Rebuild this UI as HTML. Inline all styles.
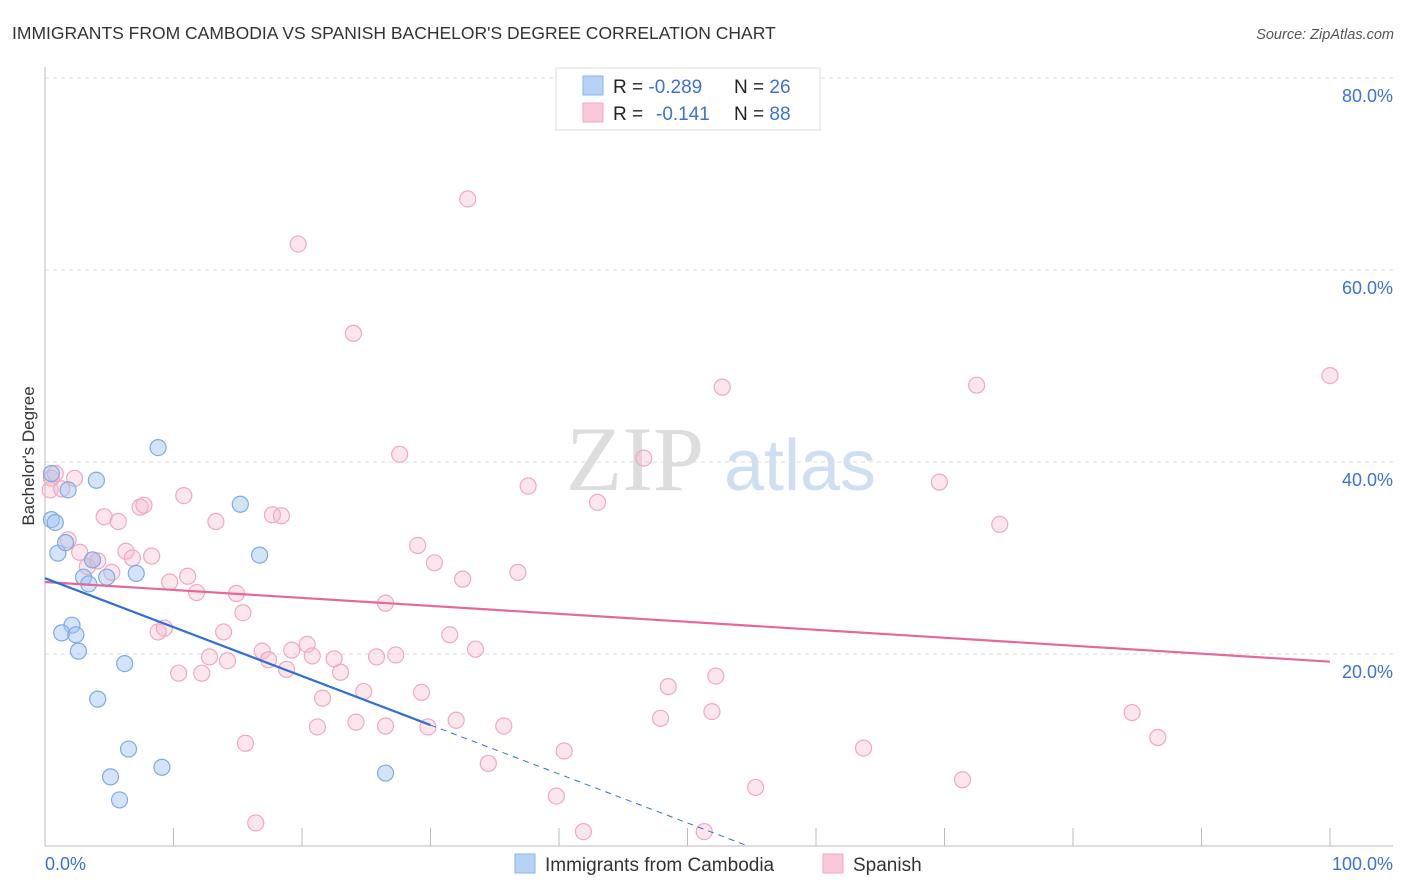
<!DOCTYPE html>
<html><head><meta charset="utf-8"><style>
body{margin:0;background:#fff;font-family:"Liberation Sans",sans-serif;}
svg{display:block}
</style></head><body>
<svg id="chart" width="1406" height="892">
<text x="12" y="39" font-size="17.5" fill="#333">IMMIGRANTS FROM CAMBODIA VS SPANISH BACHELOR'S DEGREE CORRELATION CHART</text>
<text x="1394" y="39" font-size="14.5" fill="#555" font-style="italic" text-anchor="end">Source: ZipAtlas.com</text>
<g><text x="635" y="490" font-size="92" fill="#ddd" font-family="Liberation Serif,serif" text-anchor="middle">ZIP</text><text x="800" y="490" font-size="72" fill="#cfdff2" text-anchor="middle">atlas</text></g>
<g id="grid"></g>
<g id="axes"></g>
<g id="marks"></g>
<text transform="translate(34,456) rotate(-90)" font-size="17" fill="#333" text-anchor="middle">Bachelor's Degree</text>
<g>
<rect x="556" y="68" width="264" height="62" fill="#fff" stroke="#ddd"/>
<rect x="583" y="76" width="20" height="19" fill="#b8d2f5" stroke="#8ab4e8"/>
<rect x="583" y="103" width="20" height="19" fill="#fac8d8" stroke="#f0a8c0"/>
<text x="613" y="93" font-size="19" fill="#222">R = <tspan fill="#3a72d8">-0.289</tspan><tspan x="734">N = </tspan><tspan fill="#3a72d8">26</tspan></text>
<text x="613" y="120" font-size="19" fill="#222">R = <tspan x="656" fill="#3a72d8">-0.141</tspan><tspan x="734">N = </tspan><tspan fill="#3a72d8">88</tspan></text>
</g>
<g>
<rect x="515" y="854" width="20" height="19" fill="#b8d2f5" stroke="#8ab4e8"/>
<text x="545" y="871" font-size="19" fill="#333">Immigrants from Cambodia</text>
<rect x="823" y="854" width="20" height="19" fill="#fac8d8" stroke="#f0a8c0"/>
<text x="853" y="871" font-size="19" fill="#333">Spanish</text>
</g>
</svg>
<script>
const yTicks=[20,40,60,80];
const yTickLabels=["20.0%","40.0%","60.0%","80.0%"];
const xTickVals=[0,10,20,30,40,50,60,70,80,90,100];
const blueX=[0.5,0.5,0.8,1.0,1.8,1.6,4.0,3.0,3.4,2.1,1.3,2.4,2.6,3.7,4.8,7.1,8.8,15.2,16.7,6.2,4.1,6.5,5.1,9.1,5.8,26.5];
const blueY=[38.8,34.0,33.7,30.5,37.1,31.6,38.1,28.0,27.3,23.0,22.2,22.0,20.3,29.8,28.0,28.4,41.5,35.6,30.3,19.0,15.3,10.1,7.2,8.2,4.8,7.6];
const pinkX=[0.5,0.4,0.8,2.3,1.3,1.8,2.7,3.3,3.7,4.1,4.6,5.7,5.2,6.3,6.8,7.4,7.7,8.3,8.8,9.3,9.7,10.4,10.8,11.1,11.8,12.2,12.8,13.3,13.9,14.2,14.9,15.4,15.6,16.4,16.9,17.4,17.7,18.4,18.8,19.2,19.7,20.4,20.8,21.6,21.2,22.5,23.0,24.0,24.2,24.8,25.8,26.5,26.5,27.3,27.6,29.0,29.3,29.8,30.3,31.5,32.0,32.5,32.9,33.5,34.5,35.7,36.8,37.6,39.8,40.4,41.9,43.0,46.6,47.9,48.5,51.3,51.9,52.2,52.7,55.3,63.7,69.6,71.4,72.5,74.3,84.6,86.6,100];
const pinkY=[38.3,37.1,38.8,38.3,37.2,31.9,30.6,29.1,29.8,29.7,34.3,33.8,28.5,30.7,30.0,35.3,35.5,30.2,22.3,22.7,27.5,18.0,36.5,28.1,26.4,18.0,19.7,33.8,22.3,19.3,26.3,24.3,10.7,2.4,20.3,19.4,34.5,34.4,18.4,20.4,62.7,21.0,19.8,15.4,12.4,19.5,18.1,53.4,12.9,16.1,19.7,12.5,25.3,19.9,40.8,31.3,16.0,12.4,29.5,22.0,13.1,27.8,67.4,20.5,8.6,12.5,28.5,37.5,5.2,9.9,1.5,35.8,40.4,13.3,16.6,1.5,14.0,17.7,47.8,6.1,10.2,37.9,6.9,48.0,33.5,13.9,11.3,49.0];
const blueTrend=[27.9,-0.51];
const pinkTrend=[27.5,-0.083];
const X=v=>45+12.85*v, Y=v=>846-9.6*v;
const NS="http://www.w3.org/2000/svg";
function mk(p,t,a){const e=document.createElementNS(NS,t);for(const k in a)e.setAttribute(k,a[k]);p.appendChild(e);return e;}
const grid=document.getElementById('grid'),axes=document.getElementById('axes'),marks=document.getElementById('marks');
yTicks.forEach((v,i)=>{
 const l=mk(grid,'line',{x1:45,x2:1393,y1:Y(v),y2:Y(v),stroke:'#ddd','stroke-dasharray':'4,4'});
 
 
 const t=mk(axes,'text',{x:1393,y:Y(v)+24,'font-size':18,fill:'#3a72d8','text-anchor':'end'});t.textContent=yTickLabels[i];
 
 
});
const al=mk(axes,'line',{x1:45,x2:45,y1:67,y2:846,stroke:'#bbb'});


const bl=mk(axes,'line',{x1:45,x2:1393,y1:846,y2:846,stroke:'#bbb'});


xTickVals.forEach(v=>{if(v===0)return;const t=mk(axes,'line',{x1:X(v),x2:X(v),y1:828,y2:846,stroke:'#bbb'});
 
 });
let t0=mk(axes,'text',{x:45,y:870,'font-size':18,fill:'#3a72d8'});t0.textContent='0.0%';


let t1=mk(axes,'text',{x:1393,y:870,'font-size':18,fill:'#3a72d8','text-anchor':'end'});t1.textContent='100.0%';


pinkX.forEach((x,i)=>{const c=mk(marks,'circle',{cx:X(x),cy:Y(pinkY[i]),r:8,fill:'rgba(246,182,204,0.35)',stroke:'#f0a8c0','stroke-width':1.2});
 
 });
blueX.forEach((x,i)=>{const c=mk(marks,'circle',{cx:X(x),cy:Y(blueY[i]),r:8,fill:'rgba(160,196,240,0.45)',stroke:'#7eaae6','stroke-width':1.2});
 
 });
const pt=mk(marks,'line',{x1:X(0),y1:Y(pinkTrend[0]),x2:X(100),y2:Y(pinkTrend[0]+pinkTrend[1]*100),stroke:'#e8679a','stroke-width':2.2});


const xEnd=30, xZero=-blueTrend[0]/blueTrend[1];
const bt=mk(marks,'line',{x1:X(0),y1:Y(blueTrend[0]),x2:X(xEnd),y2:Y(blueTrend[0]+blueTrend[1]*xEnd),stroke:'#2f6fd8','stroke-width':2.2});


const bd=mk(marks,'line',{x1:X(xEnd),y1:Y(blueTrend[0]+blueTrend[1]*xEnd),x2:X(xZero),y2:Y(0),stroke:'#2f6fd8','stroke-width':1,'stroke-dasharray':'6,5'});


</script>
</body></html>
